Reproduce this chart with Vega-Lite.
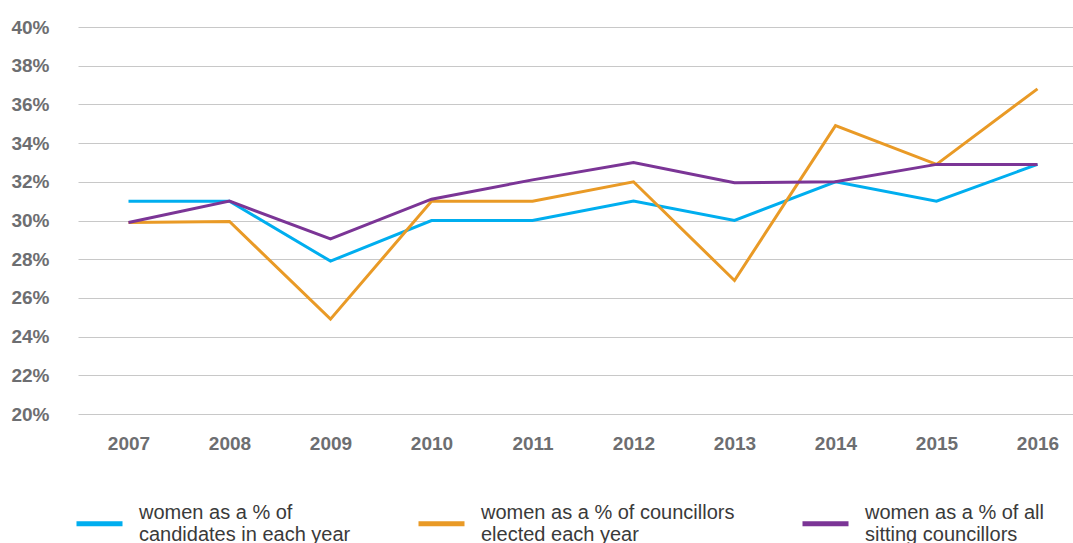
{
  "$schema": "https://vega.github.io/schema/vega-lite/v6.json",
  "autosize": "none",
  "padding": {"left": 78, "top": 27, "right": 0, "bottom": 129},
  "width": 1010,
  "height": 387,
  "background": "white",
  "config": {"view": {"stroke": null}},
  "data": {"values": [
    {"year": "2007", "series": "candidates", "value": 31.0},
    {"year": "2008", "series": "candidates", "value": 31.0},
    {"year": "2009", "series": "candidates", "value": 27.9},
    {"year": "2010", "series": "candidates", "value": 30.0},
    {"year": "2011", "series": "candidates", "value": 30.0},
    {"year": "2012", "series": "candidates", "value": 31.0},
    {"year": "2013", "series": "candidates", "value": 30.0},
    {"year": "2014", "series": "candidates", "value": 32.0},
    {"year": "2015", "series": "candidates", "value": 31.0},
    {"year": "2016", "series": "candidates", "value": 32.9},
    {"year": "2007", "series": "elected", "value": 29.9},
    {"year": "2008", "series": "elected", "value": 29.95},
    {"year": "2009", "series": "elected", "value": 24.9},
    {"year": "2010", "series": "elected", "value": 31.0},
    {"year": "2011", "series": "elected", "value": 31.0},
    {"year": "2012", "series": "elected", "value": 32.0},
    {"year": "2013", "series": "elected", "value": 26.9},
    {"year": "2014", "series": "elected", "value": 34.9},
    {"year": "2015", "series": "elected", "value": 32.9},
    {"year": "2016", "series": "elected", "value": 36.8},
    {"year": "2007", "series": "sitting", "value": 29.9},
    {"year": "2008", "series": "sitting", "value": 31.0},
    {"year": "2009", "series": "sitting", "value": 29.05},
    {"year": "2010", "series": "sitting", "value": 31.1},
    {"year": "2011", "series": "sitting", "value": 32.1},
    {"year": "2012", "series": "sitting", "value": 33.0},
    {"year": "2013", "series": "sitting", "value": 31.95},
    {"year": "2014", "series": "sitting", "value": 32.0},
    {"year": "2015", "series": "sitting", "value": 32.9},
    {"year": "2016", "series": "sitting", "value": 32.9}
  ]},
  "mark": {"type": "line", "strokeWidth": 3},
  "encoding": {
    "x": {
      "field": "year", "type": "ordinal",
      "scale": {"type": "point", "padding": 0.5},
      "axis": {
        "title": null, "labelAngle": 0, "domain": false, "ticks": false, "tickSize": 0, "grid": false,
        "labelFont": "Liberation Sans", "labelFontWeight": "bold",
        "labelFontSize": 19, "labelColor": "#6d6e71", "labelPadding": 20
      }
    },
    "y": {
      "field": "value", "type": "quantitative",
      "scale": {"domain": [20, 40], "nice": false, "zero": false},
      "axis": {
        "title": null, "values": [20,22,24,26,28,30,32,34,36,38,40],
        "labelExpr": "datum.value + '%'",
        "domain": false, "ticks": false, "tickSize": 0,
        "grid": true, "gridColor": "#c8c8c8", "gridWidth": 1,
        "labelFont": "Liberation Sans", "labelFontWeight": "bold",
        "labelFontSize": 19, "labelColor": "#6d6e71", "labelPadding": 29
      }
    },
    "color": {
      "field": "series", "type": "nominal",
      "scale": {
        "domain": ["candidates", "elected", "sitting"],
        "range": ["#00aeef", "#e99a26", "#7b3596"]
      },
      "legend": {
        "title": null, "orient": "none", "direction": "horizontal",
        "legendX": -4, "legendY": 471,
        "labelExpr": "datum.value == 'candidates' ? ['women as a % of', 'candidates in each year'] : datum.value == 'elected' ? ['women as a % of councillors', 'elected each year'] : ['women as a % of all', 'sitting councillors']",
        "symbolType": "stroke", "symbolSize": 2116, "symbolStrokeWidth": 5,
        "labelFont": "Liberation Sans", "labelFontSize": 20, "labelLineHeight": 23,
        "labelBaseline": "line-bottom",
        "labelColor": "#3a3a3a", "labelLimit": 400, "labelOffset": 14,
        "columnPadding": 57
      }
    }
  }
}
